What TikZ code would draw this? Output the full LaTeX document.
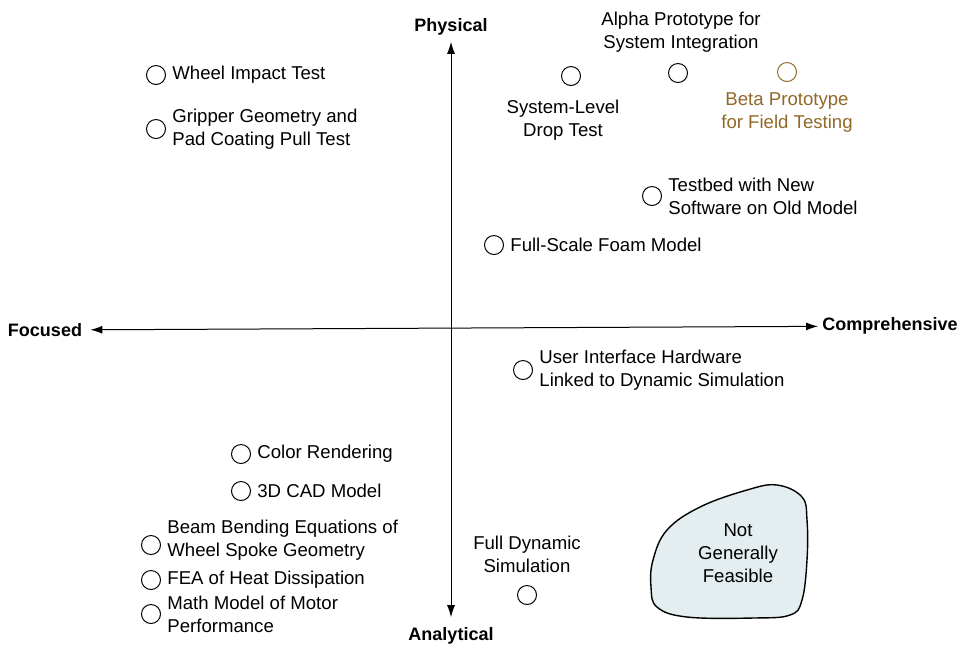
\documentclass[tikz,border=0pt]{standalone}
\usepackage{fontspec}
\setmainfont{Liberation Sans}
\usetikzlibrary{positioning,arrows.meta}
\definecolor{betabrown}{RGB}{146,104,40}
\definecolor{blobfill}{RGB}{228,237,240}

\begin{document}
\begin{tikzpicture}[x=0.5pt,y=-0.5pt,node distance=2pt,
  proto node/.style={circle,draw,line width=0.5pt,minimum size=9.5pt,inner sep=0pt},
  text node/.style={align=left,font=\fontsize{9.3}{11.5}\selectfont,inner sep=1pt},
  axis node/.style={font=\fontsize{9}{11}\selectfont\bfseries,inner sep=2pt},
  axis/.style={line width=0.5pt,{Latex[length=6pt,width=4pt]}-{Latex[length=6pt,width=4pt]}}]

  \useasboundingbox (0,0) rectangle (961,645);

  % the two axes
  \node[axis node] (phys) at (451,27) {Physical};
  \node[axis node] (anal) at (451,636) {Analytical};
  \node[axis node] (foc) at (45,330) {Focused};
  \node[axis node] (comp) at (890,326) {Comprehensive};
  \draw[axis,shorten <=2pt] (foc) -- (comp);
  \draw[axis,shorten <=1pt,shorten >=3pt] (phys) -- (anal);

  % physical and focused
  \node[proto node] (wheel) at (156,75) {};
  \node[text node,right=of wheel] (wheeltxt) {Wheel Impact Test};
  \node[proto node] (grip) at (156,129) {};
  \node[text node,right=of grip] (griptxt) {Gripper Geometry and\\Pad Coating Pull Test};

  % physical and comprehensive
  \node[proto node] (drop) at (571,76) {};
  \node[text node,align=center,below=6pt of drop,xshift=-4pt] (droptxt) {System-Level\\Drop Test};
  \node[proto node] (alpha) at (678,73) {};
  \node[text node,align=center,above=4pt of alpha,xshift=1.5pt] (alphatxt) {Alpha Prototype for\\System Integration};
  \node[proto node,draw=betabrown] (beta) at (787,72) {};
  \node[text node,align=center,text=betabrown,below=4pt of beta] (betatxt) {Beta Prototype\\for Field Testing};
  \node[proto node] (testbed) at (652,196) {};
  \node[text node,right=of testbed] (testbedtxt) {Testbed with New\\Software on Old Model};
  \node[proto node] (foam) at (494,245) {};
  \node[text node,right=of foam] (foamtxt) {Full-Scale Foam Model};

  % analytical and comprehensive
  \node[proto node] (ui) at (523,370) {};
  \node[text node,right=of ui] (uitxt) {User Interface Hardware\\Linked to Dynamic Simulation};
  \node[proto node] (fulldyn) at (527,595) {};
  \node[text node,align=center,above=5pt of fulldyn] (fulldyntxt) {Full Dynamic\\Simulation};

  % analytical and focused
  \node[proto node] (color) at (241,454) {};
  \node[text node,right=of color] (colortxt) {Color Rendering};
  \node[proto node] (cad) at (241,491) {};
  \node[text node,right=of cad] (cadtxt) {3D CAD Model};
  \node[proto node] (beam) at (151,545) {};
  \node[text node,right=of beam,yshift=2.5pt] (beamtxt) {Beam Bending Equations of\\Wheel Spoke Geometry};
  \node[proto node] (fea) at (151,580) {};
  \node[text node,right=of fea] (featxt) {FEA of Heat Dissipation};
  \node[proto node] (motor) at (151,614) {};
  \node[text node,right=of motor] (motortxt) {Math Model of Motor\\Performance};

  % region that is not generally feasible
  \draw[fill=blobfill,line width=0.7pt] plot[smooth cycle,tension=0.65] coordinates {
    (777,485) (802,497) (807,520) (807,560) (802,600) (790,615) (753,618)
    (687,617) (657,607) (651,587) (653,560) (667,530) (700,507) (747,490)};
  \node[text node,align=center] (nofeas) at (738,553) {Not\\Generally\\Feasible};
\end{tikzpicture}
\end{document}
